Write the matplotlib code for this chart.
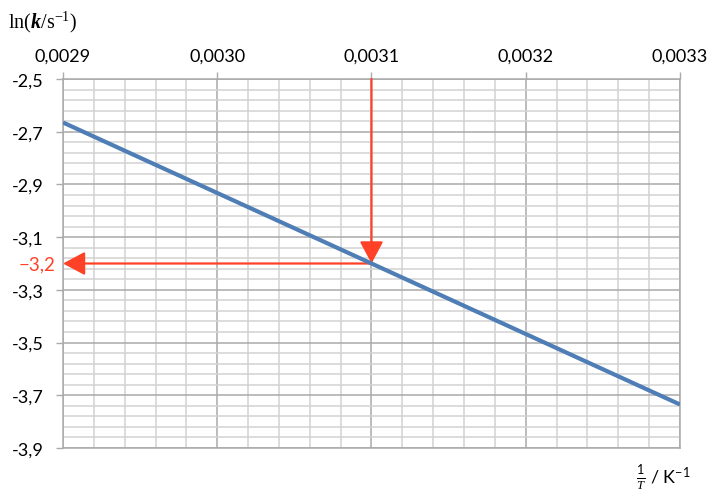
import matplotlib
matplotlib.use('Agg')
import matplotlib.pyplot as plt
import numpy as np

# data
inv_T = [0.0029, 0.0033]
ln_k = [-2.665, -3.735]
x_ticks = [0.0029, 0.0030, 0.0031, 0.0032, 0.0033]
x_labels = ['0,0029', '0,0030', '0,0031', '0,0032', '0,0033']
y_ticks = [-2.5, -2.7, -2.9, -3.1, -3.3, -3.5, -3.7, -3.9]
y_labels = ['-2,5', '-2,7', '-2,9', '-3,1', '-3,3', '-3,5', '-3,7', '-3,9']
read_x = 0.0031
read_y = -3.2
read_label = '\u22123,2'

plt.rcParams['font.family'] = ['Lato', 'DejaVu Sans']
plt.rcParams['mathtext.fontset'] = 'custom'
plt.rcParams['mathtext.rm'] = 'Liberation Serif'
plt.rcParams['mathtext.it'] = 'Liberation Serif:italic'
plt.rcParams['mathtext.bf'] = 'Liberation Serif:bold:italic'
plt.rcParams['mathtext.sf'] = 'Lato'

red = '#ff4128'
blue = '#4f7db5'
grid_minor = '#d2d2d2'
grid_major = '#aaaaaa'

fig = plt.figure(figsize=(7.19, 5.02), dpi=100)
ax = fig.add_axes([63/719, 1 - 449/502, (680 - 63)/719, (449 - 80)/502])

ax.set_xlim(x_ticks[0], x_ticks[-1])
ax.set_ylim(y_ticks[-1], y_ticks[0])

ax.set_xticks(x_ticks)
ax.set_xticklabels(x_labels)
ax.set_yticks(y_ticks)
ax.set_yticklabels(y_labels)
ax.set_xticks(np.arange(0.0029, 0.00330001, 0.00002), minor=True)
ax.set_yticks(np.arange(-3.9, -2.49, 0.04), minor=True)

ax.xaxis.tick_top()
ax.tick_params(axis='both', which='major', direction='out', length=5,
               width=1, color=grid_major, labelsize=13, labelcolor='black')
ax.tick_params(axis='x', which='major', pad=6)
ax.tick_params(axis='y', which='major', pad=9)
ax.tick_params(axis='both', which='minor', length=0)

ax.grid(True, which='minor', color=grid_minor, linewidth=1.1)
ax.grid(True, which='major', color=grid_major, linewidth=1.1)
ax.set_axisbelow(True)
for s in ax.spines.values():
    s.set_color(grid_major)
    s.set_linewidth(1.1)

# reading arrows
ax.annotate('', xy=(read_x, read_y), xytext=(read_x, y_ticks[0]),
            arrowprops=dict(arrowstyle='-|>,head_length=0.75,head_width=0.4',
                            color=red, lw=1.6, shrinkA=0, shrinkB=0,
                            mutation_scale=18),
            annotation_clip=False, zorder=3)
ax.annotate('', xy=(x_ticks[0], read_y), xytext=(read_x, read_y),
            arrowprops=dict(arrowstyle='-|>,head_length=0.75,head_width=0.4',
                            color=red, lw=1.6, shrinkA=0, shrinkB=0,
                            mutation_scale=18),
            annotation_clip=False, zorder=3)

ax.plot(inv_T, ln_k, color=blue, linewidth=3, solid_capstyle='butt', zorder=4)

ax.annotate(read_label, xy=(0, read_y), xycoords=('axes fraction', 'data'),
            xytext=(-8, 0), textcoords='offset pixels', ha='right', va='center',
            color=red, fontsize=13.5, annotation_clip=False)

fig.text(8/719, 1 - 22/502, r'$\mathrm{ln}(\mathbf{k}/\mathrm{s}^{\mathrm{-1}})$',
         fontsize=14.5, ha='left', va='center')
fig.text(636/719, 1 - 478/502, r'$\frac{\mathsf{1}}{T}$ / K$^{\mathsf{-1}}$',
         fontsize=13, ha='left', va='center')

fig.savefig('out.png', dpi=100)
